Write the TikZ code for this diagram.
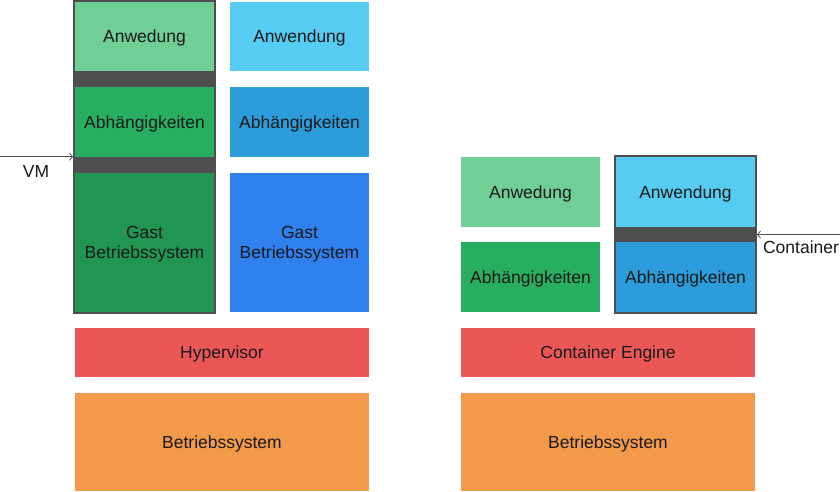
\documentclass[tikz,border=0pt]{standalone}
\usepackage{fontspec}
\setmainfont{Liberation Sans}
\usetikzlibrary{arrows.meta}
\definecolor{appgreen}{HTML}{6FCF97}
\definecolor{depgreen}{HTML}{27AE60}
\definecolor{osgreen}{HTML}{219653}
\definecolor{appblue}{HTML}{56CCF2}
\definecolor{depblue}{HTML}{2D9CDB}
\definecolor{osblue}{HTML}{2F80ED}
\definecolor{hyperred}{HTML}{EB5757}
\definecolor{hostorange}{HTML}{F2994A}
\definecolor{bandgray}{HTML}{4F4F4F}

\begin{document}
\begin{tikzpicture}[x=1pt,y=1pt]
\tikzstyle{every node}+=[inner sep=0pt, font=\fontsize{17.5}{20}\selectfont, text=black!90]
\tikzstyle{layer}=[rectangle, minimum width=139pt, minimum height=70pt, align=center, text height=12.5pt, text depth=0pt]
\tikzstyle{wide}=[rectangle, minimum width=294pt, text height=12.5pt, text depth=0pt]
\tikzstyle{twoline}=[text height=32.5pt, text depth=0pt]
\tikzstyle{wrap}=[rectangle, fill=bandgray, draw=bandgray, line width=2pt]
\tikzstyle{pointer}=[draw=bandgray, line width=0.8pt, -{Straight Barb[length=3pt,width=7pt]}]
\useasboundingbox (0,0) rectangle (840,-491);
\node [wrap, minimum width=141pt, minimum height=311.5pt] (vm) at (144.5,-156.75) {};
\node [wrap, minimum width=141pt, minimum height=157pt] (ct) at (685.5,-234.5) {};
\node [layer, fill=appgreen, minimum height=69pt] (app1) at (144.5,-36.5) {Anwedung};
\node [layer, fill=depgreen] (dep1) at (144.5,-122) {Abhängigkeiten};
\node [layer, twoline, fill=osgreen, minimum height=139pt] (gos1) at (144.5,-242.5) {Gast\\Betriebssystem};
\node [layer, fill=appblue, minimum height=69pt] (app2) at (299.5,-36.5) {Anwendung};
\node [layer, fill=depblue] (dep2) at (299.5,-122) {Abhängigkeiten};
\node [layer, twoline, fill=osblue, minimum height=139pt] (gos2) at (299.5,-242.5) {Gast\\Betriebssystem};
\node [wide, fill=hyperred, minimum height=49pt] (hyper) at (222,-352.5) {Hypervisor};
\node [wide, fill=hostorange, minimum height=98pt] (host1) at (222,-442) {Betriebssystem};
\node [layer, fill=appgreen] (app3) at (530.5,-192) {Anwedung};
\node [layer, fill=depgreen] (dep3) at (530.5,-277) {Abhängigkeiten};
\node [layer, fill=appblue] (app4) at (685.5,-192) {Anwendung};
\node [layer, fill=depblue] (dep4) at (685.5,-277) {Abhängigkeiten};
\node [wide, fill=hyperred, minimum height=49pt] (engine) at (608,-352.5) {Container Engine};
\node [wide, fill=hostorange, minimum height=98pt] (host2) at (608,-442) {Betriebssystem};
\coordinate (vmtail) at (0,-156.75);
\coordinate (cttail) at (840,-234.5);
\draw [pointer] (vmtail) -- (vm.west);
\draw [pointer] (cttail) -- (ct.east);
\node (vmlabel) at (36,-171) {VM};
\node (ctlabel) at (801,-247) {Container};
\end{tikzpicture}
\end{document}
